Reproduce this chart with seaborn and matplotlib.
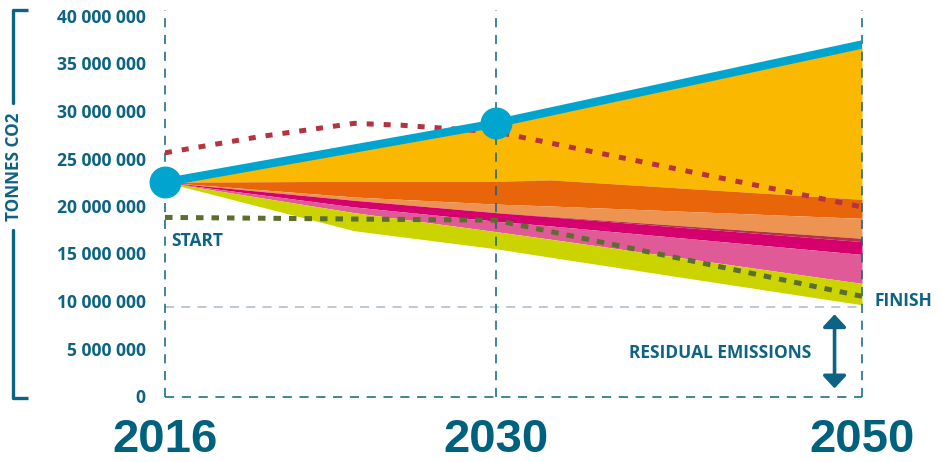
import numpy as np
import matplotlib
matplotlib.use("Agg")
import matplotlib.pyplot as plt
import matplotlib.transforms as mtransforms
import seaborn as sns

# values in million tonnes CO2
years = [2016, 2024, 2030, 2033, 2050]
yellow_top = [22.5, 26.0, 28.7, 29.9, 36.8]
orange_top = [22.5, 22.6, 22.6, 22.75, 20.7]
orange_bottom = [22.5, 20.95, 20.2, 20.0, 18.7]
light_orange_bottom = [22.5, 20.6, 19.3, 18.9, 16.6]
dark_red_bottom = [22.5, 20.6, 19.3, 18.85, 16.25]
magenta_bottom = [22.5, 19.9, 18.4, 17.9, 14.9]
pink_bottom = [22.5, 19.3, 17.3, 16.5, 11.85]
lime_bottom = [22.5, 17.4, 15.5, 14.6, 9.6]

blue_years = [2016, 2030, 2050]
blue_vals = [22.5, 28.7, 37.0]

red_years = [2016, 2020, 2024, 2026, 2030, 2050]
red_vals = [25.6, 27.3, 28.7, 28.5, 27.8, 19.9]

green_years = [2016, 2030, 2050]
green_vals = [18.8, 18.5, 10.5]

residual = 9.4
label_years = [2016, 2030, 2050]
yticks = [0, 5, 10, 15, 20, 25, 30, 35, 40]

M = 1e6
TEAL = "#0C6383"

sns.set_style("white")
plt.rcParams["font.family"] = ["Open Sans", "DejaVu Sans"]

fig = plt.figure(figsize=(9.43, 4.62), dpi=100)
ax = fig.add_axes([165 / 943, 66 / 462, 697 / 943, 380 / 462])

# uneven spacing of the year axis (2016-2030 is wider per year than 2030-2050)
def fwd(x):
    x = np.asarray(x, dtype=float)
    return np.where(x <= 2030, (x - 2016) * 331 / 14, 331 + (x - 2030) * 366 / 20)

def inv(p):
    p = np.asarray(p, dtype=float)
    return np.where(p <= 331, 2016 + p * 14 / 331, 2030 + (p - 331) * 20 / 366)

ax.set_xscale("function", functions=(fwd, inv))
ax.set_xlim(2016, 2050)
ax.set_ylim(0, 40 * M)

yr = np.array(years)
def band(top, bottom, color):
    ax.fill_between(yr, np.array(top) * M, np.array(bottom) * M, color=color, lw=0, zorder=1)

band(yellow_top, orange_top, "#FAB800")
band(orange_top, orange_bottom, "#E8650A")
band(orange_bottom, light_orange_bottom, "#EE9452")
band(light_orange_bottom, dark_red_bottom, "#B83245")
band(dark_red_bottom, magenta_bottom, "#D5006E")
band(magenta_bottom, pink_bottom, "#E05A98")
band(pink_bottom, lime_bottom, "#CCD400")

# residual emissions level
ax.plot([2016, 2050], [residual * M, residual * M], color="#B8C4D0", lw=1.3,
        ls=(0, (5, 4)), zorder=2)

# dashed frame
for x in label_years:
    ax.plot([x, x], [-0.1 * M, 40.6 * M], color=TEAL, lw=1.1, ls=(0, (6, 5)),
            zorder=3, clip_on=False)
ax.plot([2016, 2050], [-0.1 * M, -0.1 * M], color=TEAL, lw=1.1, ls=(0, (6, 5)),
        zorder=3, clip_on=False)

sns.lineplot(x=green_years, y=np.array(green_vals) * M, color="#5B6E2F", lw=3.6,
             ls=(0, (1.5, 1.6)), ax=ax, zorder=4)
sns.lineplot(x=red_years, y=np.array(red_vals) * M, color="#B5323F", lw=3.6,
             ls=(0, (1.4, 2.0)), ax=ax, zorder=4)
sns.lineplot(x=blue_years, y=np.array(blue_vals) * M, color="#00A5CF", lw=6,
             ax=ax, zorder=5, solid_capstyle="round")
ax.plot(blue_years[:2], np.array(blue_vals[:2]) * M, "o", color="#00A5CF", ms=22,
        zorder=6, clip_on=False)

# axes styling
sns.despine(ax=ax, left=True, bottom=True)
ax.set_xticks([])
ax.set_yticks([v * M for v in yticks])
ax.set_yticklabels([f"{v * 1000000:,.0f}".replace(",", " ") for v in yticks],
                   fontsize=12.6, fontweight="bold", color=TEAL)
ax.tick_params(axis="y", length=0, pad=14)
ax.set_xlabel("")
ax.set_ylabel("")

xa = mtransforms.blended_transform_factory(ax.transData, ax.transAxes)
for y in label_years:
    ax.text(y, -0.116, str(y), transform=xa, ha="center", va="center",
            fontsize=34, fontweight="bold", color="#00617F",
            family=["Liberation Sans", "DejaVu Sans"], clip_on=False)

ax.text(171 / 943, 1 - 241.5 / 462, "START", transform=fig.transFigure, ha="left",
        va="center", fontsize=12.5, fontweight="bold", color=TEAL)
ax.text(875 / 943, 1 - 301 / 462, "FINISH", transform=fig.transFigure, ha="left",
        va="center", fontsize=12.5, fontweight="bold", color=TEAL)
ax.text(811 / 943, 1 - 352.5 / 462, "RESIDUAL EMISSIONS", transform=fig.transFigure,
        ha="right", va="center", fontsize=12.5, fontweight="bold", color=TEAL)
ax.annotate("", xy=(2048.5, 0.8 * M), xytext=(2048.5, 8.6 * M),
            arrowprops=dict(arrowstyle="<|-|>,head_length=0.75,head_width=0.7",
                            color=TEAL, lw=2.6, shrinkA=0, shrinkB=0), zorder=6)

# left bracket with axis title
fig.text(14 / 943, 1 - 167 / 462, "TONNES CO2", rotation=90, ha="center", va="center",
         fontsize=12.3, fontweight="bold", color=TEAL)
bx = 13 / 943
fig.add_artist(plt.Line2D([bx, bx], [1 - 10 / 462, 1 - 103 / 462], color=TEAL, lw=2.4,
                          transform=fig.transFigure))
fig.add_artist(plt.Line2D([bx, bx], [1 - 230 / 462, 1 - 398 / 462], color=TEAL, lw=2.4,
                          transform=fig.transFigure))
fig.add_artist(plt.Line2D([bx, 28 / 943], [1 - 10 / 462, 1 - 10 / 462], color=TEAL,
                          lw=2.4, transform=fig.transFigure, solid_capstyle="butt"))
fig.add_artist(plt.Line2D([bx, 28 / 943], [1 - 398 / 462, 1 - 398 / 462], color=TEAL,
                          lw=2.4, transform=fig.transFigure, solid_capstyle="butt"))

fig.savefig("out.png", dpi=100)
